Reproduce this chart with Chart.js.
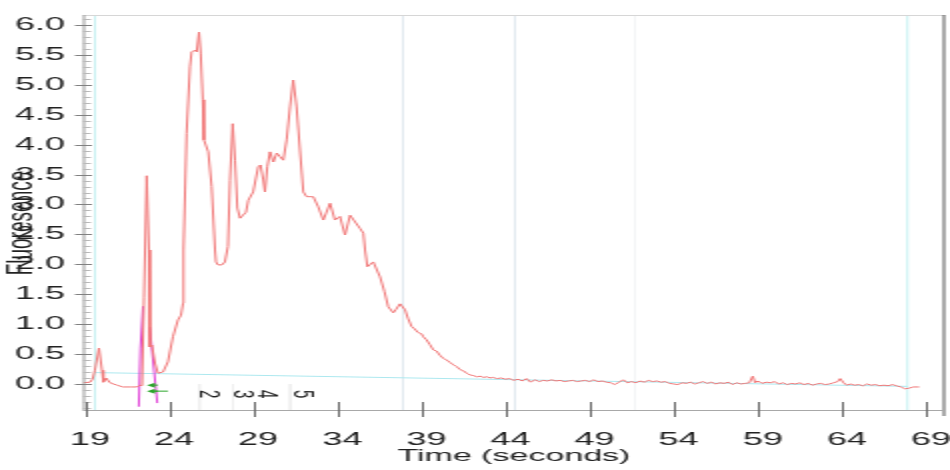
<!DOCTYPE html>
<html>
<head>
<meta charset="utf-8">
<script src="https://cdn.jsdelivr.net/npm/chart.js@4.4.1/dist/chart.umd.min.js"></script>
<style>
  html, body { margin: 0; padding: 0; background: #ffffff; overflow: hidden; }
  #wrap { position: absolute; left: 0; top: 0; width: 475px; height: 470px; transform: scaleX(2); transform-origin: 0 0; }
  canvas { display: block; }
</style>
</head>
<body>
<div id="wrap"><canvas id="c" width="475" height="470"></canvas></div>
<script>
// ---------- data: [time (s), fluorescence] ----------
const tracePoints = [
  [18.88,0.02],[19.30,0.03],[19.45,0.08],[19.59,0.23],[19.83,0.60],[20.01,0.23],[20.09,0.03],[20.25,0.10],
  [20.49,0.02],[20.90,-0.02],[21.26,-0.05],[21.70,-0.05],[22.09,-0.05],[22.27,-0.02],[22.39,-0.03],
  [22.51,1.45],[22.67,3.48],[22.80,2.24],[22.86,0.62],[22.98,0.65],[23.16,0.35],[23.34,0.18],[23.64,0.20],
  [23.93,0.37],[24.23,0.79],[24.53,1.07],[24.71,1.15],[24.83,1.35],[24.86,2.24],[25.04,4.19],[25.24,5.30],
  [25.34,5.55],[25.54,5.58],[25.64,5.55],[25.78,5.88],[25.88,5.53],[26.00,4.75],[26.07,4.08],[26.33,3.88],
  [26.53,3.30],[26.73,2.24],[26.79,2.04],[26.91,1.99],[27.14,1.99],[27.32,2.04],[27.50,2.30],[27.62,3.40],
  [27.78,4.35],[27.92,3.74],[28.06,2.94],[28.22,2.77],[28.39,2.82],[28.57,2.87],[28.71,3.07],[29.00,3.21],
  [29.30,3.63],[29.44,3.66],[29.60,3.41],[29.70,3.21],[29.84,3.63],[30.00,3.88],[30.20,3.71],[30.40,3.86],
  [30.59,3.80],[30.79,3.74],[30.99,4.08],[31.19,4.63],[31.38,5.08],[31.58,4.63],[31.78,3.91],[31.98,3.21],
  [32.18,3.13],[32.57,3.13],[32.87,2.96],[33.17,2.74],[33.57,3.02],[33.86,2.74],[34.16,2.80],[34.46,2.49],
  [34.76,2.82],[35.35,2.60],[35.55,2.52],[35.65,2.24],[35.79,1.96],[36.14,2.04],[36.54,1.79],[36.80,1.55],
  [37.03,1.29],[37.33,1.19],[37.50,1.25],[37.73,1.34],[38.03,1.24],[38.20,1.10],[38.42,0.96],[38.60,0.92],
  [38.80,0.86],[39.00,0.84],[39.11,0.79],[39.30,0.74],[39.50,0.66],[39.71,0.57],[39.90,0.55],[40.10,0.48],
  [40.30,0.43],[40.50,0.40],[40.70,0.36],[40.90,0.32],[41.10,0.29],[41.30,0.24],[41.50,0.22],[41.69,0.18],
  [41.90,0.15],[42.10,0.14],[42.29,0.12],[42.50,0.13],[42.70,0.11],[42.90,0.12],[43.08,0.10],[43.25,0.11],
  [43.50,0.09],[43.75,0.10],[44.00,0.08],[44.25,0.09],[44.50,0.06],[44.75,0.08],[45.00,0.05],[45.25,0.09],
  [45.50,0.03],[45.75,0.07],[46.00,0.04],[46.25,0.06],[46.50,0.05],[46.75,0.07],[47.00,0.05],[47.25,0.06],
  [47.50,0.04],[47.75,0.05],[48.00,0.06],[48.25,0.04],[48.50,0.05],[48.75,0.06],[49.00,0.04],[49.25,0.07],
  [49.50,0.04],[49.75,0.05],[50.00,0.03],[50.25,0.02],[50.50,-0.01],[50.75,0.03],[51.00,0.07],[51.25,0.02],
  [51.50,0.04],[51.75,0.02],[52.00,0.05],[52.25,0.03],[52.50,0.06],[52.75,0.04],[53.00,0.05],[53.25,0.03],
  [53.50,0.04],[53.75,0.01],[54.00,0.00],[54.25,-0.01],[54.50,0.02],[54.75,0.01],[55.00,0.03],[55.25,0.00],
  [55.50,0.02],[55.75,0.04],[56.00,0.01],[56.25,0.03],[56.50,0.00],[56.75,0.02],[57.00,0.01],[57.25,0.03],
  [57.50,-0.01],[57.75,0.02],[58.00,0.00],[58.25,0.01],[58.50,0.02],[58.70,0.13],[58.85,0.02],[59.00,0.05],
  [59.25,0.01],[59.50,0.03],[59.75,0.02],[60.00,0.04],[60.25,0.00],[60.50,0.02],[60.75,-0.01],[61.00,0.01],
  [61.25,0.00],[61.50,0.02],[61.75,-0.01],[62.00,0.01],[62.25,-0.02],[62.50,0.00],[62.75,0.01],[63.00,-0.01],
  [63.25,0.00],[63.50,0.02],[63.75,0.04],[63.90,0.09],[64.10,0.02],[64.30,-0.02],[64.50,0.00],[64.75,-0.02],
  [65.00,-0.01],[65.25,-0.03],[65.50,0.00],[65.75,-0.02],[66.00,-0.01],[66.25,-0.03],[66.50,-0.02],[66.75,-0.03],
  [67.00,-0.01],[67.25,-0.03],[67.50,-0.05],[67.75,-0.08],[68.00,-0.07],[68.25,-0.05],[68.60,-0.05]
];

// magenta fitted-peak trace (null = gap)
const fitTime  = [22.20, 22.30, 22.45, 22.60, 22.85, 23.30];
const fitFluor = [-0.38, 0.60, 1.30, null, 0.95, -0.32];

const baselineTime  = [19.6, 67.9];
const baselineFluor = [0.19, -0.04];

const cyanLineTimes  = [19.6, 67.9];
const greyLineTimes  = [37.9, 44.56];
const faintLineTimes = [51.7];
const peakMarkTimes  = [25.8, 27.8, 31.2];

const peakLabels     = ['2', '3', '4', '5'];
const peakLabelTimes = [26.3, 28.4, 29.8, 31.96];
const peakLabelLevel = -0.17;

const markerTime  = [22.86, 23.93];
const markerLevel = -0.12;

const xTickValues = [19, 24, 29, 34, 39, 44, 49, 54, 59, 64, 69];
const yTickValues = [0, 0.5, 1, 1.5, 2, 2.5, 3, 3.5, 4, 4.5, 5, 5.5, 6];
const X_MIN = 18.88, X_MAX = 70.13, Y_MIN = -0.435, Y_MAX = 6.167;

const FONT = '"Liberation Sans", Arial, sans-serif';

// ---------- datasets ----------
const pts = (xs, ys) => xs.map((v, i) => ({ x: v, y: ys[i] }));
const vline = (t, y0, y1) => [{ x: t, y: y0 }, { x: t, y: y1 }];

const datasets = [
  { data: tracePoints.map(p => ({ x: p[0], y: p[1] })), borderColor: '#f07474', borderWidth: 1 },
  { data: pts(fitTime, fitFluor), borderColor: '#e040d8', borderWidth: 1, spanGaps: false },
  { data: pts(baselineTime, baselineFluor), borderColor: '#ade8ef', borderWidth: 1 },
];
cyanLineTimes.forEach(t => datasets.push({ data: vline(t, Y_MIN, Y_MAX), borderColor: '#c6f1f2', borderWidth: 1 }));
greyLineTimes.forEach(t => datasets.push({ data: vline(t, Y_MIN, Y_MAX), borderColor: '#e0e9ef', borderWidth: 1 }));
faintLineTimes.forEach(t => datasets.push({ data: vline(t, Y_MIN, Y_MAX), borderColor: '#f3f5f6', borderWidth: 1 }));
peakMarkTimes.forEach(t => datasets.push({ data: vline(t, 0, Y_MIN), borderColor: '#efefef', borderWidth: 1 }));
datasets.forEach(d => { d.pointRadius = 0; d.fill = false; d.tension = 0; });

// ---------- decoration plugin ----------
const decor = {
  id: 'decor',
  afterDraw(chart) {
    const { ctx, chartArea: a, scales: { x, y } } = chart;
    ctx.save();
    ctx.lineWidth = 1;
    // frame
    ctx.strokeStyle = '#d6d6d6';
    ctx.beginPath(); ctx.moveTo(a.left, a.top + 0.5); ctx.lineTo(a.right, a.top + 0.5); ctx.stroke();
    ctx.strokeStyle = '#555';
    ctx.beginPath(); ctx.moveTo(a.right - 0.5, a.top); ctx.lineTo(a.right - 0.5, a.bottom + 6); ctx.stroke();
    ctx.strokeStyle = '#9a9a9a';
    ctx.beginPath(); ctx.moveTo(a.left + 0.5, a.top); ctx.lineTo(a.left + 0.5, a.bottom + 0.5); ctx.stroke();
    ctx.strokeStyle = '#a8a8a8';
    ctx.beginPath(); ctx.moveTo(a.left, a.bottom + 0.5); ctx.lineTo(a.right, a.bottom + 0.5); ctx.stroke();

    // y minor ticks
    ctx.strokeStyle = '#b8b8b8';
    for (let k = -4; k <= 61; k++) {
      const py = Math.round(y.getPixelForValue(k / 10)) + 0.5;
      ctx.beginPath(); ctx.moveTo(a.left, py); ctx.lineTo(a.left + 4, py); ctx.stroke();
    }
    // y major ticks
    ctx.strokeStyle = '#808080';
    yTickValues.forEach(v => {
      const py = Math.round(y.getPixelForValue(v)) + 0.5;
      ctx.beginPath(); ctx.moveTo(a.left - 4, py); ctx.lineTo(a.left + 4.5, py); ctx.stroke();
    });
    // x major ticks
    ctx.strokeStyle = '#6a6a6a';
    xTickValues.forEach(v => {
      const px = Math.round(x.getPixelForValue(v)) + 0.5;
      ctx.beginPath(); ctx.moveTo(px, a.bottom - 8); ctx.lineTo(px, a.bottom + 7); ctx.stroke();
    });

    // green marker
    ctx.strokeStyle = '#2aa52a';
    ctx.fillStyle = '#2aa52a';
    const mx0 = x.getPixelForValue(markerTime[0]), mx1 = x.getPixelForValue(markerTime[1]);
    const my = y.getPixelForValue(markerLevel);
    ctx.beginPath(); ctx.moveTo(mx0, my); ctx.lineTo(mx1, my); ctx.stroke();
    [my - 6, my].forEach(yy => {
      ctx.beginPath();
      ctx.moveTo(mx0 - 1.5, yy); ctx.lineTo(mx0 + 2.5, yy - 2.5); ctx.lineTo(mx0 + 2.5, yy + 2.5); ctx.closePath(); ctx.fill();
      ctx.beginPath(); ctx.moveTo(mx0, yy); ctx.lineTo(mx0 + 4, yy); ctx.stroke();
    });

    // peak labels (rotated)
    ctx.fillStyle = '#1e1e1e';
    ctx.font = '15px ' + FONT;
    ctx.textAlign = 'center';
    ctx.textBaseline = 'middle';
    peakLabels.forEach((s, i) => {
      ctx.save();
      ctx.translate(x.getPixelForValue(peakLabelTimes[i]), y.getPixelForValue(peakLabelLevel));
      ctx.rotate(Math.PI / 2);
      ctx.fillText(s, 0, 0);
      ctx.restore();
    });

    // y-axis title
    ctx.save();
    ctx.font = '19px ' + FONT;
    ctx.fillStyle = '#222';
    ctx.translate(11, 223);
    ctx.rotate(-Math.PI / 2);
    ctx.fillText('Fluoresence', 0, 0);
    ctx.restore();

    ctx.restore();
  }
};

new Chart(document.getElementById('c'), {
  type: 'line',
  data: { datasets },
  plugins: [decor],
  options: {
    responsive: false,
    animation: false,
    devicePixelRatio: 1,
    events: [],
    layout: { padding: { top: 15, right: 2.5, left: 0, bottom: 0 } },
    plugins: { legend: { display: false }, tooltip: { enabled: false } },
    scales: {
      x: {
        type: 'linear', min: X_MIN, max: X_MAX,
        grid: { display: false, drawTicks: true, tickLength: 8 },
        border: { display: false },
        afterBuildTicks: s => { s.ticks = xTickValues.map(v => ({ value: v })); },
        afterFit: s => { s.height = 60; s.paddingLeft = 0; s.paddingRight = 0; },
        ticks: {
          autoSkip: false, maxRotation: 0, minRotation: 0, padding: 11, labelOffset: 2.5,
          color: '#222', font: { size: 18, family: FONT },
          callback: v => String(v)
        },
        title: { display: true, text: 'Time (seconds)', color: '#222', font: { size: 17, family: FONT }, padding: { top: 0, bottom: 3 } }
      },
      y: {
        type: 'linear', min: Y_MIN, max: Y_MAX,
        grid: { display: false, drawTicks: true, tickLength: 4 },
        border: { display: false },
        afterBuildTicks: s => { s.ticks = yTickValues.map(v => ({ value: v })); },
        afterFit: s => { s.width = 41.5; s.paddingTop = 0; s.paddingBottom = 0; },
        ticks: {
          autoSkip: false, padding: 5,
          color: '#222', font: { size: 18, family: FONT },
          callback: v => Number(v).toFixed(1)
        }
      }
    }
  }
});
</script>
</body>
</html>
